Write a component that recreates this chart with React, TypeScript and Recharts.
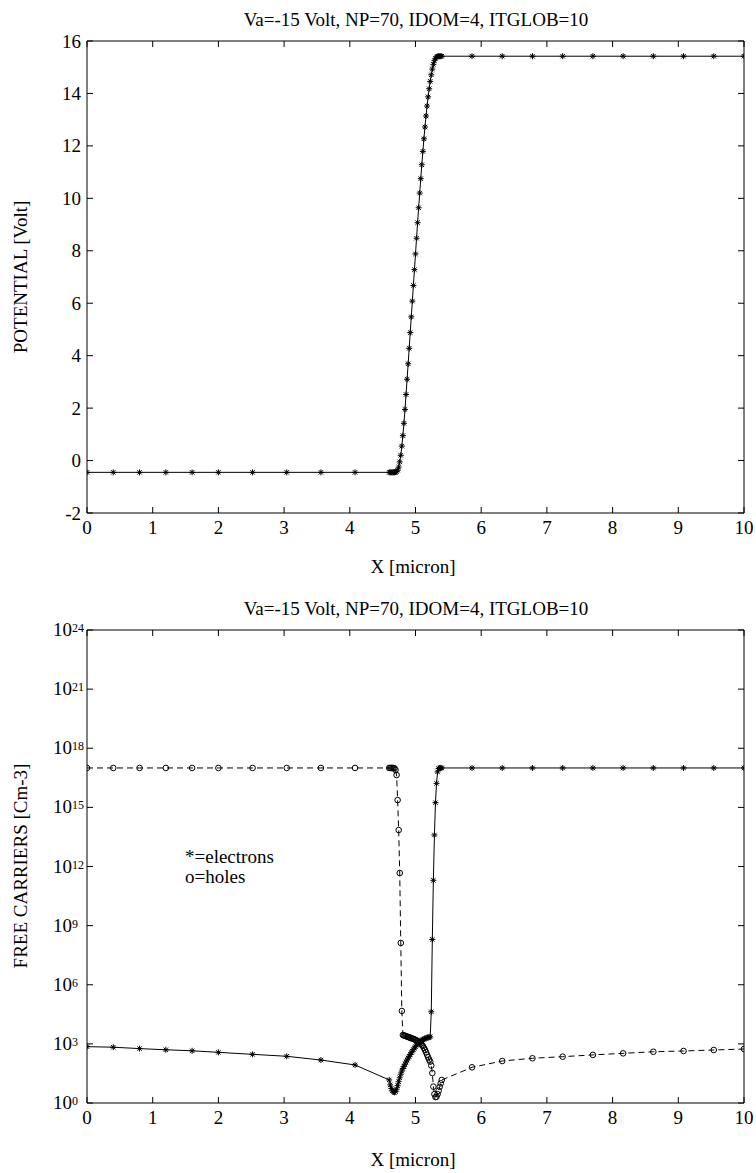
import React from "react";
import { LineChart, Line, XAxis, YAxis, ReferenceArea } from "recharts";

// mesh points [micron]
const xMicron = [
  0, 0.4, 0.8, 1.2, 1.6, 2.0, 2.52, 3.04, 3.56, 4.08,
  4.6, 4.616, 4.632, 4.648, 4.664, 4.68, 4.696, 4.712, 4.728, 4.744,
  4.76, 4.776, 4.792, 4.808, 4.824, 4.84, 4.856, 4.872, 4.888, 4.904,
  4.92, 4.936, 4.952, 4.968, 4.984, 5.0, 5.016, 5.032, 5.048, 5.064,
  5.08, 5.096, 5.112, 5.128, 5.144, 5.16, 5.176, 5.192, 5.208, 5.224,
  5.24, 5.256, 5.272, 5.288, 5.304, 5.32, 5.336, 5.352, 5.368, 5.384,
  5.4,
  5.86, 6.32, 6.78, 7.24, 7.7, 8.16, 8.62, 9.08, 9.54, 10.0,
];

// potential [Volt]
const potential = [
  -0.45, -0.45, -0.45, -0.45, -0.45, -0.45, -0.45, -0.45, -0.45, -0.45,
  -0.45, -0.45, -0.45, -0.45, -0.45, -0.45, -0.44, -0.42, -0.37, -0.25,
  -0.05, 0.2, 0.55, 0.95, 1.42, 1.95, 2.52, 3.1, 3.69, 4.28,
  4.88, 5.48, 6.08, 6.68, 7.28, 7.88, 8.48, 9.07, 9.64, 10.2,
  10.75, 11.28, 11.79, 12.27, 12.72, 13.14, 13.52, 13.87, 14.18, 14.46,
  14.71, 14.93, 15.11, 15.25, 15.34, 15.39, 15.41, 15.42, 15.42, 15.42,
  15.42,
  15.42, 15.42, 15.42, 15.42, 15.42, 15.42, 15.42, 15.42, 15.42, 15.42,
];

// log10 of carrier density [cm-3]
const electronsLog = [
  2.86, 2.83, 2.76, 2.7, 2.65, 2.57, 2.47, 2.37, 2.18, 1.93,
  1.17, 0.92, 0.74, 0.62, 0.56, 0.54, 0.58, 0.7, 0.88, 1.08,
  1.28, 1.46, 1.62, 1.75, 1.86, 1.97, 2.08, 2.18, 2.28, 2.37,
  2.46, 2.55, 2.63, 2.71, 2.79, 2.86, 2.93, 2.99, 3.05, 3.1,
  3.14, 3.18, 3.21, 3.24, 3.27, 3.29, 3.31, 3.33, 3.34, 3.36,
  4.63, 8.3, 11.3, 13.6, 15.24, 16.22, 16.8, 16.97, 17.0, 17.0,
  17.0,
  17.0, 17.0, 17.0, 17.0, 17.0, 17.0, 17.0, 17.0, 17.0, 17.0,
];

const holesLog = [
  17.0, 17.0, 17.0, 17.0, 17.0, 17.0, 17.0, 17.0, 17.0, 17.0,
  17.0, 17.0, 17.0, 17.0, 17.0, 16.98, 16.9, 16.64, 15.37, 13.85,
  11.67, 8.12, 4.67, 3.45, 3.43, 3.41, 3.39, 3.37, 3.35, 3.33,
  3.31, 3.29, 3.27, 3.25, 3.23, 3.2, 3.17, 3.14, 3.11, 3.07,
  3.02, 2.96, 2.89, 2.8, 2.7, 2.58, 2.45, 2.32, 2.2, 2.1,
  1.9, 1.52, 0.83, 0.45, 0.3, 0.32, 0.45, 0.62, 0.82, 1.0,
  1.17,
  1.81, 2.13, 2.27, 2.35, 2.44, 2.52, 2.6, 2.64, 2.69, 2.74,
];

const xTicks = [0, 1, 2, 3, 4, 5, 6, 7, 8, 9, 10];
const potentialTicks = [-2, 0, 2, 4, 6, 8, 10, 12, 14, 16];
const carrierExpTicks = [0, 3, 6, 9, 12, 15, 18, 21, 24];

const titleText = "Va=-15 Volt, NP=70, IDOM=4, ITGLOB=10";
const legendLines = ["*=electrons", "o=holes"];

const FONT = "'Liberation Serif', 'Times New Roman', serif";
const PLOT_RIGHT = 744;
const TICK = 6;

const potentialData = xMicron.map((x, i) => ({ x, v: potential[i] }));
const carrierData = xMicron.map((x, i) => ({
  x,
  n: Math.pow(10, electronsLog[i]),
  p: Math.pow(10, holesLog[i]),
}));

function Star(props: any) {
  const { cx, cy } = props;
  if (cx == null || cy == null) return <g />;
  const r = 3;
  const d = 2.2;
  return (
    <g stroke="#000" strokeWidth={1}>
      <line x1={cx - r} y1={cy} x2={cx + r} y2={cy} />
      <line x1={cx} y1={cy - r} x2={cx} y2={cy + r} />
      <line x1={cx - d} y1={cy - d} x2={cx + d} y2={cy + d} />
      <line x1={cx - d} y1={cy + d} x2={cx + d} y2={cy - d} />
    </g>
  );
}

function Ring(props: any) {
  const { cx, cy } = props;
  if (cx == null || cy == null) return <g />;
  return <circle cx={cx} cy={cy} r={2.8} fill="none" stroke="#000" strokeWidth={1} />;
}

function XTick(props: any) {
  const { x, y, payload, top } = props;
  return (
    <g>
      <line x1={x} y1={y} x2={x} y2={y - TICK} stroke="#000" />
      <line x1={x} y1={top} x2={x} y2={top + TICK} stroke="#000" />
      <text x={x} y={y + 21} textAnchor="middle" fontSize={19} fontFamily={FONT} fill="#000">
        {payload.value}
      </text>
    </g>
  );
}

function YTickLinear(props: any) {
  const { x, y, payload } = props;
  return (
    <g>
      <line x1={x} y1={y} x2={x + TICK} y2={y} stroke="#000" />
      <line x1={PLOT_RIGHT - TICK} y1={y} x2={PLOT_RIGHT} y2={y} stroke="#000" />
      <text x={x - 6} y={y + 6.5} textAnchor="end" fontSize={19} fontFamily={FONT} fill="#000">
        {payload.value}
      </text>
    </g>
  );
}

function YTickLog(props: any) {
  const { x, y, payload } = props;
  const exp = Math.round(Math.log10(payload.value));
  return (
    <g>
      <line x1={x} y1={y} x2={x + TICK} y2={y} stroke="#000" />
      <line x1={PLOT_RIGHT - TICK} y1={y} x2={PLOT_RIGHT} y2={y} stroke="#000" />
      <text x={72} y={y + 6} textAnchor="end" fontSize={19} fontFamily={FONT} fill="#000">
        10
      </text>
      <text x={72} y={y + 2} textAnchor="start" fontSize={12} fontFamily={FONT} fill="#000">
        {exp}
      </text>
    </g>
  );
}

function PotentialChart() {
  return (
    <LineChart
      width={756}
      height={590}
      data={potentialData}
      margin={{ top: 41, right: 12, bottom: 47, left: 0 }}
    >
      <XAxis
        dataKey="x"
        type="number"
        domain={[0, 10]}
        ticks={xTicks}
        interval={0}
        height={30}
        axisLine={false}
        tickLine={false}
        tickSize={0}
        tickMargin={0}
        allowDataOverflow
        tick={(p: any) => <XTick {...p} top={41} />}
      />
      <YAxis
        type="number"
        domain={[-2, 16]}
        ticks={potentialTicks}
        interval={0}
        width={87}
        axisLine={false}
        tickLine={false}
        tickSize={0}
        tickMargin={0}
        allowDataOverflow
        tick={(p: any) => <YTickLinear {...p} />}
      />
      <ReferenceArea x1={0} x2={10} y1={-2} y2={16} fill="none" stroke="#000" strokeWidth={1} />
      <Line
        dataKey="v"
        type="linear"
        stroke="#000"
        strokeWidth={1}
        dot={(p: any) => <Star key={`s${p.index}`} {...p} />}
        activeDot={false}
        isAnimationActive={false}
      />
    </LineChart>
  );
}

function CarrierChart() {
  return (
    <LineChart
      width={756}
      height={583}
      data={carrierData}
      margin={{ top: 40, right: 12, bottom: 40, left: 0 }}
    >
      <XAxis
        dataKey="x"
        type="number"
        domain={[0, 10]}
        ticks={xTicks}
        interval={0}
        height={30}
        axisLine={false}
        tickLine={false}
        tickSize={0}
        tickMargin={0}
        allowDataOverflow
        tick={(p: any) => <XTick {...p} top={40} />}
      />
      <YAxis
        type="number"
        scale="log"
        domain={[1, 1e24]}
        ticks={carrierExpTicks.map((e) => Math.pow(10, e))}
        interval={0}
        width={87}
        axisLine={false}
        tickLine={false}
        tickSize={0}
        tickMargin={0}
        allowDataOverflow
        tick={(p: any) => <YTickLog {...p} />}
      />
      <ReferenceArea x1={0} x2={10} y1={1} y2={1e24} fill="none" stroke="#000" strokeWidth={1} />
      <Line
        dataKey="p"
        type="linear"
        stroke="#000"
        strokeWidth={1}
        strokeDasharray="6 4"
        dot={(p: any) => <Ring key={`o${p.index}`} {...p} />}
        activeDot={false}
        isAnimationActive={false}
      />
      <Line
        dataKey="n"
        type="linear"
        stroke="#000"
        strokeWidth={1}
        dot={(p: any) => <Star key={`e${p.index}`} {...p} />}
        activeDot={false}
        isAnimationActive={false}
      />
    </LineChart>
  );
}

export default function App() {
  const textStyle = { fontFamily: FONT, fontSize: 19, fill: "#000" } as const;
  return (
    <div style={{ position: "absolute", left: 0, top: 0, width: 756, height: 1173, background: "#fff" }}>
      <div style={{ position: "absolute", left: 0, top: 0 }}>
        <PotentialChart />
      </div>
      <div style={{ position: "absolute", left: 0, top: 590 }}>
        <CarrierChart />
      </div>
      <svg
        width={756}
        height={1173}
        style={{ position: "absolute", left: 0, top: 0, pointerEvents: "none" }}
      >
        <text x={416} y={26} textAnchor="middle" style={textStyle}>{titleText}</text>
        <text x={413} y={573} textAnchor="middle" style={textStyle}>X [micron]</text>
        <text transform="translate(27,277) rotate(-90)" textAnchor="middle" style={textStyle}>
          POTENTIAL [Volt]
        </text>
        <text x={416} y={615} textAnchor="middle" style={textStyle}>{titleText}</text>
        <text x={413} y={1166} textAnchor="middle" style={textStyle}>X [micron]</text>
        <text transform="translate(27,866) rotate(-90)" textAnchor="middle" style={textStyle}>
          FREE CARRIERS [Cm-3]
        </text>
        <text x={185} y={863} style={textStyle}>{legendLines[0]}</text>
        <text x={185} y={883} style={textStyle}>{legendLines[1]}</text>
      </svg>
    </div>
  );
}
